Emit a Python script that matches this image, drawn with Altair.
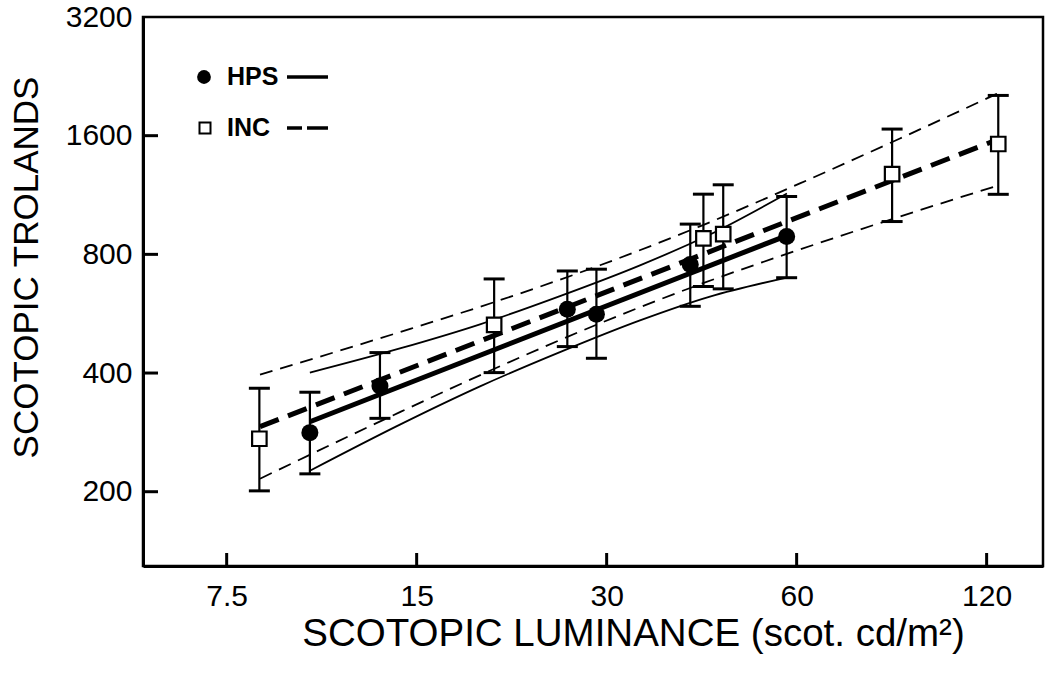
import altair as alt
import pandas as pd

# ---- data (scotopic luminance vs scotopic trolands) ----
hps_x = [10.16, 13.12, 25.99, 28.9, 40.7, 57.85]
hps_y = [282.4, 371.0, 580.8, 564.0, 753.8, 887.6]
hps_lo = [222.0, 307.0, 466.8, 436.0, 590.6, 698.0]
hps_hi = [357.6, 450.7, 726.0, 733.6, 954.6, 1121.6]

inc_x = [8.45, 19.9, 42.7, 45.9, 85.0, 125.2]
inc_y = [272.5, 529.8, 878.0, 900.0, 1278.0, 1524.0]
inc_lo = [201.0, 401.0, 663.0, 654.0, 969.0, 1136.0]
inc_hi = [366.0, 693.0, 1137.0, 1201.0, 1663.0, 2024.0]

hps_fit_x = [10.16, 57.91]
hps_fit_y = [301.0, 892.9]
inc_fit_x = [8.47, 124.6]
inc_fit_y = [292.4, 1562.0]

hps_band_x = [10.16, 14.11, 18.90, 25.30, 33.88, 43.73, 57.91]
hps_band_upper = [400.9, 461.7, 531.7, 626.9, 750.3, 898.1, 1141.4]
hps_band_lower = [226.1, 296.0, 370.1, 452.0, 544.0, 625.1, 698.5]

inc_band_x = [8.47, 14.11, 20.33, 29.28, 42.16, 60.72, 87.47, 124.6]
inc_band_upper = [396.3, 508.0, 612.1, 750.7, 942.3, 1210.7, 1574.0, 2044.0]
inc_band_lower = [215.8, 318.3, 416.2, 534.9, 671.4, 823.2, 997.8, 1193.8]

x_ticks = [7.5, 15, 30, 60, 120]
y_ticks = [200, 400, 800, 1600, 3200]
legend_labels = ["HPS", "INC"]

FONT = "Liberation Sans"
W, H = 900, 549

xs = alt.Scale(type="log", domain=[5.527, 147.4], nice=False)
ys = alt.Scale(type="log", domain=[129.6, 3200], nice=False)

xaxis = alt.Axis(values=x_ticks, format=".2~f", labelPadding=39, labelBaseline="alphabetic",
                 labelFlush=False, labelOverlap=False, titleFontSize=38.5,
                 title="SCOTOPIC LUMINANCE (scot. cd/m²)", titleX=490, titleY=79,
                 titleBaseline="alphabetic")
yaxis = alt.Axis(values=y_ticks, format="d", labelPadding=11, labelFlush=False, labelOverlap=False,
                 titleFontSize=35,
                 title="SCOTOPIC TROLANDS", titleX=-106, titleY=250, titleBaseline="alphabetic")

hps = pd.DataFrame({"x": hps_x, "y": hps_y, "lo": hps_lo, "hi": hps_hi})
inc = pd.DataFrame({"x": inc_x, "y": inc_y, "lo": inc_lo, "hi": inc_hi})
allpts = pd.concat([hps, inc], ignore_index=True)

hps_band = pd.concat([
    pd.DataFrame({"x": hps_band_x, "y": hps_band_upper, "b": "u"}),
    pd.DataFrame({"x": hps_band_x, "y": hps_band_lower, "b": "l"}),
])
inc_band = pd.concat([
    pd.DataFrame({"x": inc_band_x, "y": inc_band_upper, "b": "u"}),
    pd.DataFrame({"x": inc_band_x, "y": inc_band_lower, "b": "l"}),
])


def X(f="x"):
    return alt.X(f"{f}:Q", scale=xs, axis=xaxis)


def Y(f="y"):
    return alt.Y(f"{f}:Q", scale=ys, axis=yaxis)


hps_band_l = alt.Chart(hps_band).mark_line(color="black", strokeWidth=1.8, interpolate="monotone").encode(
    x=X(), y=Y(), detail="b:N")
inc_band_l = alt.Chart(inc_band).mark_line(color="black", strokeWidth=1.8, strokeDash=[13, 8],
                                           interpolate="monotone").encode(x=X(), y=Y(), detail="b:N")

hps_fit = alt.Chart(pd.DataFrame({"x": hps_fit_x, "y": hps_fit_y})).mark_line(
    color="black", strokeWidth=5).encode(x=X(), y=Y())
inc_fit = alt.Chart(pd.DataFrame({"x": inc_fit_x, "y": inc_fit_y})).mark_line(
    color="black", strokeWidth=5, strokeDash=[20, 10]).encode(x=X(), y=Y())

err = alt.Chart(allpts).mark_rule(color="black", strokeWidth=2.2).encode(x=X(), y=Y("lo"), y2="hi:Q")
cap_lo = alt.Chart(allpts).mark_tick(color="black", orient="horizontal", size=21, thickness=3, opacity=1).encode(
    x=X(), y=Y("lo"))
cap_hi = alt.Chart(allpts).mark_tick(color="black", orient="horizontal", size=21, thickness=3, opacity=1).encode(
    x=X(), y=Y("hi"))

circles = alt.Chart(hps).mark_point(shape="circle", filled=True, color="black", size=290, opacity=1).encode(
    x=X(), y=Y())
squares = alt.Chart(inc).mark_point(shape="square", filled=True, fill="white", stroke="black",
                                    strokeWidth=2.2, size=210, opacity=1).encode(x=X(), y=Y())

xt = alt.Chart(pd.DataFrame({"x": x_ticks})).mark_rule(color="black", strokeWidth=3).encode(
    x=X(), y=alt.value(H), y2=alt.value(H - 13))
yt = alt.Chart(pd.DataFrame({"y": y_ticks[:-1]})).mark_rule(color="black", strokeWidth=3).encode(
    y=Y(), x=alt.value(0), x2=alt.value(15))

# legend
lg_hps_sym = alt.Chart().mark_point(shape="circle", filled=True, color="black", size=190, opacity=1).encode(
    x=alt.value(61), y=alt.value(60))
lg_hps_txt = alt.Chart().mark_text(text=legend_labels[0], font=FONT, fontSize=25, fontWeight="bold",
                                   align="left", baseline="middle", color="black").encode(
    x=alt.value(84), y=alt.value(60))
lg_hps_line = alt.Chart().mark_rule(color="black", strokeWidth=3.5).encode(
    x=alt.value(144), x2=alt.value(185), y=alt.value(60))
lg_inc_sym = alt.Chart().mark_point(shape="square", filled=True, fill="white", stroke="black",
                                    strokeWidth=2, size=121, opacity=1).encode(x=alt.value(62), y=alt.value(111))
lg_inc_txt = alt.Chart().mark_text(text=legend_labels[1], font=FONT, fontSize=25, fontWeight="bold",
                                   align="left", baseline="middle", color="black").encode(
    x=alt.value(84), y=alt.value(111))
lg_inc_line = alt.Chart().mark_rule(color="black", strokeWidth=3.5, strokeDash=[15, 5, 30, 5]).encode(
    x=alt.value(144), x2=alt.value(185), y=alt.value(111))

chart = alt.layer(
    hps_band_l, inc_band_l, hps_fit, inc_fit, err, cap_lo, cap_hi, circles, squares, xt, yt,
    lg_hps_sym, lg_hps_txt, lg_hps_line, lg_inc_sym, lg_inc_txt, lg_inc_line,
).properties(
    width=W, height=H, autosize="none",
    padding={"left": 143, "top": 17, "right": 4, "bottom": 107},
    background="white",
).configure_view(
    stroke="black", strokeWidth=2.5
).configure_axis(
    domainColor="black", domainWidth=3, ticks=False, tickSize=0, grid=False,
    labelFont=FONT, labelFontSize=30, labelColor="black",
    titleFont=FONT, titleFontWeight="normal", titleColor="black",
)

chart.save("out.html", embed_options={"renderer": "svg", "actions": False})
